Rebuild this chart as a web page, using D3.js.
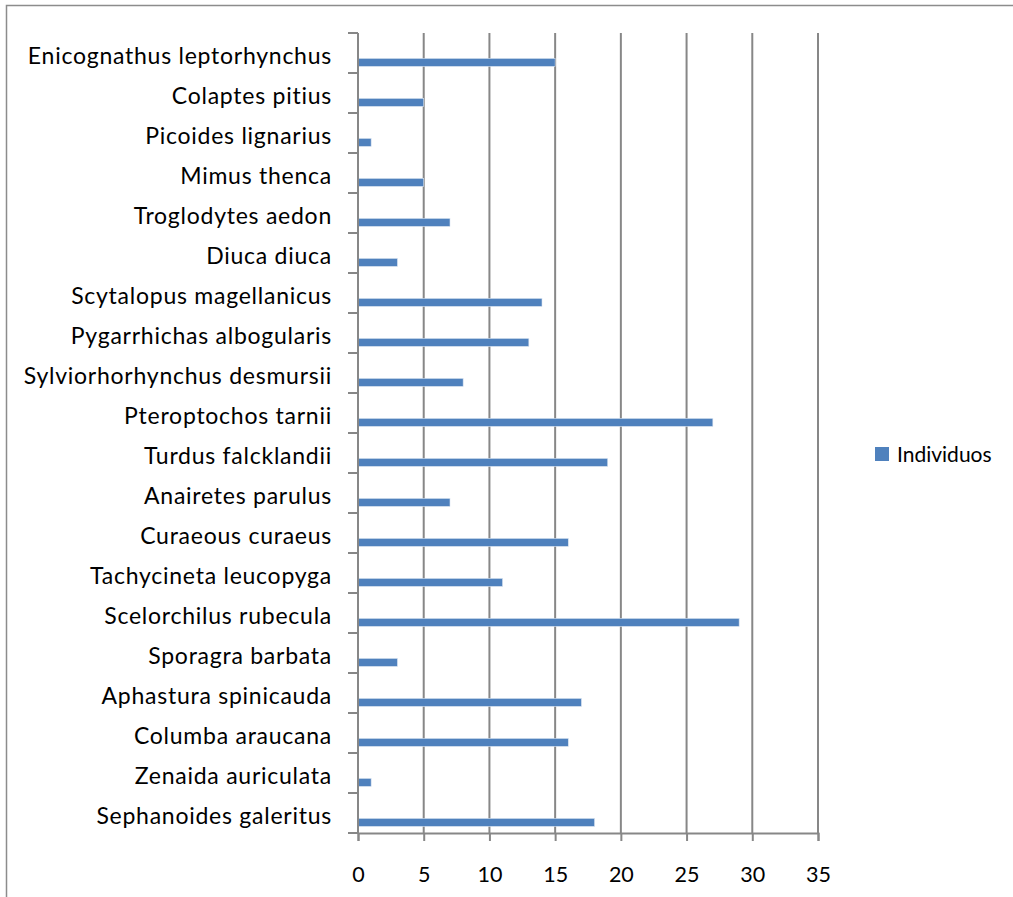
<!DOCTYPE html>
<html>
<head>
<meta charset="utf-8">
<script src="https://cdn.jsdelivr.net/npm/d3@7"></script>
<style>
  body { margin: 0; background: #fff; }
  svg { display: block; }
  text { font-family: Lato, "Open Sans", sans-serif; fill: #000; }
</style>
</head>
<body>
<div id="chart"></div>
<script>
// species, top to bottom as drawn
var species = [
  "Enicognathus leptorhynchus", "Colaptes pitius", "Picoides lignarius", "Mimus thenca",
  "Troglodytes aedon", "Diuca diuca", "Scytalopus  magellanicus", "Pygarrhichas albogularis",
  "Sylviorhorhynchus desmursii", "Pteroptochos tarnii", "Turdus  falcklandii", "Anairetes parulus",
  "Curaeous curaeus", "Tachycineta leucopyga", "Scelorchilus rubecula", "Sporagra barbata",
  "Aphastura spinicauda", "Columba araucana", "Zenaida auriculata", "Sephanoides galeritus"
];
var individuos = [15, 5, 1, 5, 7, 3, 14, 13, 8, 27, 19, 7, 16, 11, 29, 3, 17, 16, 1, 18];
var xTicks = [0, 5, 10, 15, 20, 25, 30, 35];
var seriesName = "Individuos";

var W = 1013, H = 897;
var plotL = 358, plotR = 818, plotT = 33, plotB = 833;

var svg = d3.select("#chart").append("svg")
  .attr("width", W).attr("height", H);

// outer chart frame
svg.append("rect")
  .attr("x", 6.5).attr("y", 5.5)
  .attr("width", W + 20).attr("height", H + 20)
  .attr("fill", "none").attr("stroke", "#8c8c8c").attr("stroke-width", 1.5);

var x = d3.scaleLinear().domain([0, 35]).range([plotL, plotR]);
var y = d3.scaleBand().domain(species).range([plotT, plotB]);

// vertical gridlines
svg.selectAll(".grid")
  .data(xTicks.slice(1))
  .enter().append("line")
    .attr("x1", d => x(d)).attr("x2", d => x(d))
    .attr("y1", plotT).attr("y2", plotB)
    .attr("stroke", "#878787").attr("stroke-width", 2);

// bars (sit low in each band, like the original)
svg.selectAll(".bar")
  .data(individuos)
  .enter().append("rect")
    .attr("x", x(0))
    .attr("y", (d, i) => y(species[i]) + y.bandwidth() * 0.635)
    .attr("width", d => x(d) - x(0))
    .attr("height", y.bandwidth() * 0.2)
    .attr("fill", "#4f81bd")
    .attr("stroke", "#dbe5f1").attr("stroke-width", 0.6);

// x axis
var xAxis = svg.append("g")
  .attr("transform", "translate(0," + plotB + ")")
  .call(d3.axisBottom(x).tickValues(xTicks).tickSize(8));
xAxis.select(".domain").attr("stroke", "#878787").attr("stroke-width", 2);
xAxis.selectAll("line").attr("stroke", "#878787").attr("stroke-width", 2);
xAxis.selectAll("text")
  .attr("y", 49).attr("dy", 0)
  .style("font-size", "21.5px").attr("fill", "#000");

// y axis: ticks on band edges
var yAxis = svg.append("g")
  .attr("transform", "translate(" + plotL + ",0)");
yAxis.append("line")
  .attr("x1", 0).attr("x2", 0).attr("y1", plotT).attr("y2", plotB)
  .attr("stroke", "#878787").attr("stroke-width", 2);
yAxis.selectAll(".tk")
  .data(species.concat(["end"]))
  .enter().append("line")
    .attr("x1", -10).attr("x2", 0)
    .attr("y1", (d, i) => plotT + i * y.bandwidth())
    .attr("y2", (d, i) => plotT + i * y.bandwidth())
    .attr("stroke", "#878787").attr("stroke-width", 2);
yAxis.selectAll(".lbl")
  .data(species)
  .enter().append("text")
    .attr("x", -26)
    .attr("y", d => y(d) + y.bandwidth() / 2 + 11)
    .attr("text-anchor", "end")
    .style("font-size", "23px")
    .style("letter-spacing", "0.75px")
    .text(d => d);

// legend
var lg = svg.append("g").attr("transform", "translate(875,447)");
lg.append("rect").attr("width", 14).attr("height", 14).attr("fill", "#4f81bd");
lg.append("text").attr("x", 22).attr("y", 15)
  .style("font-size", "21px").text(seriesName);
</script>
</body>
</html>
